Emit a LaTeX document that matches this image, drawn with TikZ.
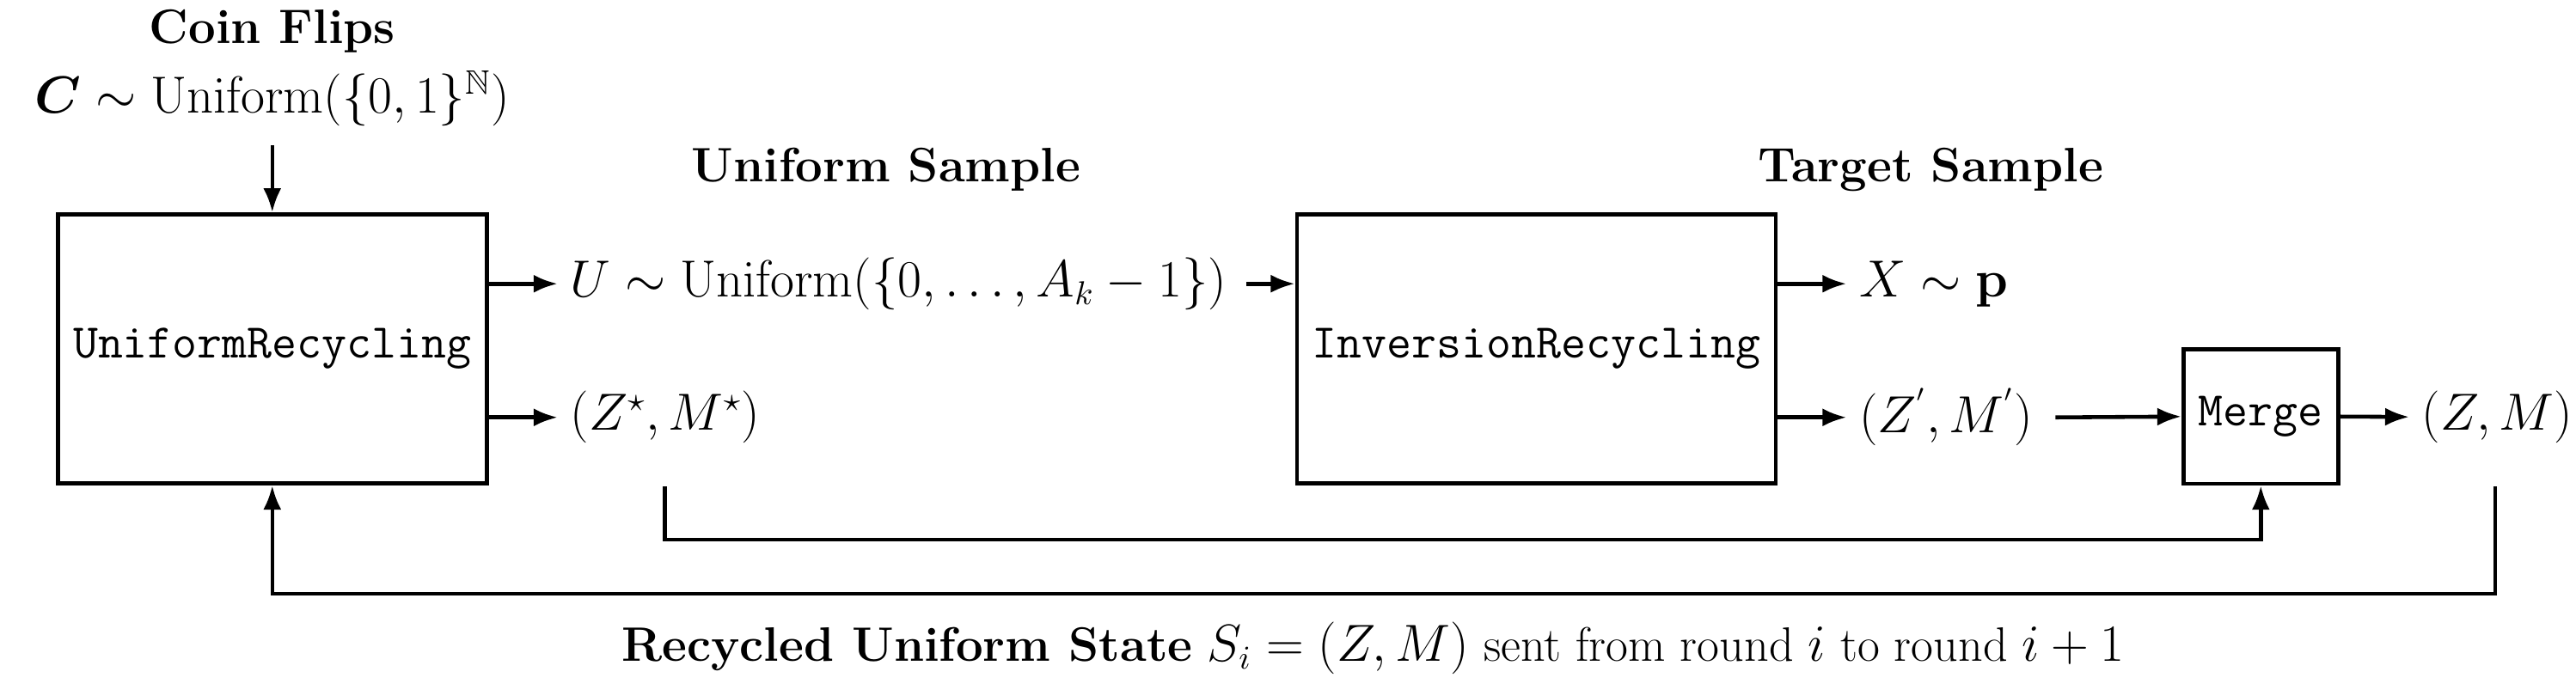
\documentclass[tikz,border=0pt]{standalone}
\usepackage{amsmath,amssymb,bm}
\usetikzlibrary{arrows.meta, positioning}

\begin{document}
\begin{tikzpicture}[x=0.0192cm, y=-0.0192cm, font=\fontsize{16pt}{20pt}\selectfont,
  box/.style={draw, line width=1.3pt, minimum height=3.13cm, inner sep=0pt},
  lbl/.style={inner sep=4pt},
  arr/.style={line width=1.3pt, -{Latex[length=8pt, width=6pt]}},
  ln/.style={line width=1.3pt}]
\useasboundingbox (0,0) rectangle (1561,418);

\node[align=center] (coin) at (165,41) {\textbf{Coin Flips}\\[3pt] $\bm{C}\sim\mathrm{Uniform}(\{0,1\}^{\mathbb{N}})$};
\node[box, minimum width=4.99cm] (ur) at (165,211.5) {\texttt{UniformRecycling}};
\node[box, minimum width=5.57cm] (ir) at (931,211.5) {\texttt{InversionRecycling}};
\node[box, minimum width=1.8cm, minimum height=1.56cm] (merge) at (1370,252.5) {\texttt{Merge}};

\node at (537,103) (us) {\textbf{Uniform Sample}};
\node at (1170,103) (ts) {\textbf{Target Sample}};

\node[lbl, anchor=west] (u) at (338,172) {$U\sim\mathrm{Uniform}(\{0,\dots,A_k-1\})$};
\node[lbl, anchor=west] (zs) at (338,253) {$(Z^\star,M^\star)$};
\node[lbl, anchor=west] (x) at (1119,172) {$X\sim\mathbf{p}$};
\node[lbl, anchor=west] (zp) at (1119,253) {$(Z^{'},M^{'})$};
\node[lbl, anchor=west] (zm) at (1460,253) {$(Z,M)$};

\draw[arr] (165,88) -- (ur.north);
\draw[arr] (ur.east |- u) -- (u);
\draw[arr] (ur.east |- zs) -- (zs);
\draw[arr] (u.east) ++(4,0) -- (ir.west |- u);
\draw[arr] (ir.east |- x) -- (x);
\draw[arr] (ir.east |- zp) -- (zp);
\draw[arr] (zp.east) ++(6,0) -- (merge.west);
\draw[arr] (merge.east) -- (zm);

% feedback
\coordinate (a) at (403,295);
\coordinate (b) at (1512,295);
\draw[ln, -{Latex[length=8pt, width=6pt]}] (a) -- (403,327) -| (merge.south);
\draw[ln, -{Latex[length=8pt, width=6pt]}] (b) -- (1512,360) -| (ur.south);

\node (rs) at (832,393) {\textbf{Recycled Uniform State} $S_i=(Z,M)$ sent from round $i$ to round $i+1$};
\end{tikzpicture}
\end{document}
